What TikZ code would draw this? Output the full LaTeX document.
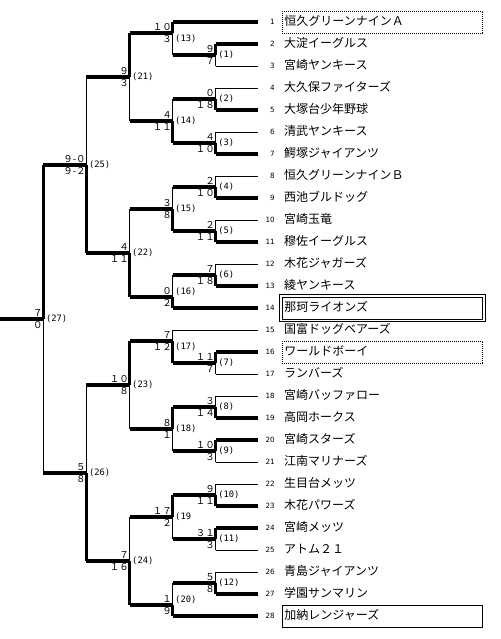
\documentclass[tikz,border=0pt]{standalone}
\usepackage{fontspec}
\usetikzlibrary{calc}
\newfontfamily\jpfont{Noto Sans CJK JP}
\newfontfamily\numfont{DejaVu Sans}
\newfontfamily\lblfont{DejaVu Sans Mono}
\begin{document}
\begin{tikzpicture}[x=1pt,y=-1pt,
  win/.style={line width=3.6pt,line cap=square},
  lose/.style={line width=0.9pt,line cap=square},
  namebox/.style={anchor=west,minimum width=200pt,minimum height=22pt,text width=196pt,align=left,
    inner xsep=2pt,inner ysep=0pt,text height=9.5pt,text depth=2.5pt,font=\jpfont\fontsize{12}{12}\selectfont},
  nobox/.style={},
  dotbox/.style={draw,line width=0.8pt,dash pattern=on 0.8pt off 1.2pt},
  dblbox/.style={draw,line width=0.9pt},
  solidbox/.style={draw,line width=0.9pt},
  tnum/.style={anchor=east,inner sep=0pt,font=\numfont\fontsize{7.2}{7.2}\selectfont},
  sc/.style={inner sep=0pt,font=\jpfont\fontsize{9.5}{9.5}\selectfont},
  lbl/.style={anchor=west,inner sep=0pt,font=\lblfont\fontsize{8.8}{8.8}\selectfont}]
\useasboundingbox (0,0) rectangle (500,639);
% teams
\foreach \k/\cx/\ls/\bx/\nm in {
  1/172.5/win/dotbox/恒久グリーンナインＡ,
  2/215.6/win/nobox/大淀イーグルス,
  3/215.6/lose/nobox/宮崎ヤンキース,
  4/215.6/lose/nobox/大久保ファイターズ,
  5/215.6/win/nobox/大塚台少年野球,
  6/215.6/lose/nobox/清武ヤンキース,
  7/215.6/win/nobox/鰐塚ジャイアンツ,
  8/215.6/lose/nobox/恒久グリーンナインＢ,
  9/215.6/win/nobox/西池ブルドッグ,
  10/215.6/lose/nobox/宮崎玉竜,
  11/215.6/win/nobox/穆佐イーグルス,
  12/215.6/lose/nobox/木花ジャガーズ,
  13/215.6/win/nobox/綾ヤンキース,
  14/172.5/win/dblbox/那珂ライオンズ,
  15/172.5/lose/nobox/国富ドッグベアーズ,
  16/215.6/win/dotbox/ワールドボーイ,
  17/215.6/lose/nobox/ランバーズ,
  18/215.6/lose/nobox/宮崎バッファロー,
  19/215.6/win/nobox/高岡ホークス,
  20/215.6/win/nobox/宮崎スターズ,
  21/215.6/lose/nobox/江南マリナーズ,
  22/215.6/lose/nobox/生目台メッツ,
  23/215.6/win/nobox/木花パワーズ,
  24/215.6/win/nobox/宮崎メッツ,
  25/215.6/lose/nobox/アトム２１,
  26/215.6/lose/nobox/青島ジャイアンツ,
  27/215.6/win/nobox/学園サンマリン,
  28/172.5/win/solidbox/加納レンジャーズ}{
  \coordinate (a\k) at ({\cx},{22*\k});
  \coordinate (b\k) at ({258},{22*\k});
  \draw[\ls] (a\k) -- (b\k);
  \node[tnum] (k\k) at ({275},{22*\k}) {\k};
  \node[namebox,\bx] (n\k) at ({282},{22*\k}) {\nm};
}
% outer line of the double frame
\draw[line width=0.9pt] ([shift={(-2.2,-2.2)}]n14.north west) rectangle ([shift={(2.2,2.2)}]n14.south east);
% match junctions (m) and outputs (o)
\foreach \n/\cx/\ox/\yy in {
  1/215.6/172.5/55, 2/215.6/172.5/99, 3/215.6/172.5/143, 4/215.6/172.5/187,
  5/215.6/172.5/231, 6/215.6/172.5/275, 7/215.6/172.5/363, 8/215.6/172.5/407,
  9/215.6/172.5/451, 10/215.6/172.5/495, 11/215.6/172.5/539, 12/215.6/172.5/583,
  13/172.5/129.5/33, 14/172.5/129.5/121, 15/172.5/129.5/209, 16/172.5/129.5/297,
  17/172.5/129.5/341, 18/172.5/129.5/429, 19/172.5/129.5/517, 20/172.5/129.5/605,
  21/129.5/86.4/77, 22/129.5/86.4/253, 23/129.5/86.4/385, 24/129.5/86.4/561,
  25/86.4/43.3/165, 26/86.4/43.3/473, 27/43.3/0/319}{
  \coordinate (m\n) at ({\cx},{\yy});
  \coordinate (o\n) at ({\ox},{\yy});
}
% matches: connectors and match labels
\foreach \n/\up/\lo/\stu/\stl/\lt in {
  1/a2/a3/win/lose/(1),
  2/a4/a5/lose/win/(2),
  3/a6/a7/lose/win/(3),
  4/a8/a9/lose/win/(4),
  5/a10/a11/lose/win/(5),
  6/a12/a13/lose/win/(6),
  7/a16/a17/win/lose/(7),
  8/a18/a19/lose/win/(8),
  9/a20/a21/win/lose/(9),
  10/a22/a23/lose/win/(10),
  11/a24/a25/win/lose/(11),
  12/a26/a27/lose/win/(12),
  13/a1/o1/win/lose/(13),
  14/o2/o3/lose/win/(14),
  15/o4/o5/lose/win/(15),
  16/o6/a14/lose/win/(16),
  17/a15/o7/lose/win/(17),
  18/o8/o9/win/lose/(18),
  19/o10/o11/win/lose/(19,
  20/o12/a28/lose/win/(20),
  21/o13/o14/win/lose/(21),
  22/o15/o16/lose/win/(22),
  23/o17/o18/win/lose/(23),
  24/o19/o20/lose/win/(24),
  25/o21/o22/lose/win/(25),
  26/o23/o24/lose/win/(26),
  27/o25/o26/win/lose/(27)}{
  \draw[\stu] (m\n) -- (\up);
  \draw[\stl] (m\n) -- (\lo);
  \draw[win] (o\n) -- (m\n);
  \node[lbl] (l\n) at ($(\up)!0.5!(\lo)+(2.5,0)$) {\lt};
}
% scores
\foreach \n/\su/\sl in {
  1/９/７, 2/０/１８, 3/４/１０, 4/２/１０, 5/２/１１, 6/７/１８, 7/１１/７,
  8/３/１４, 9/１０/３, 10/９/１１, 11/３１/３, 12/５/８, 13/１０/３, 14/４/１１,
  15/３/８, 16/０/２, 17/７/１２, 18/８/１, 19/１７/２, 20/１/９, 21/９/３,
  22/４/１１, 23/１０/８, 24/７/１６, 25/９-０/９-２, 26/５/８, 27/７/０}{
  \node[sc,anchor=south east] (su\n) at ([shift={(-0.5,-2.3)}]m\n) {\su};
  \node[sc,anchor=north east] (sl\n) at ([shift={(-0.5,2.3)}]m\n) {\sl};
}
\end{tikzpicture}
\end{document}
